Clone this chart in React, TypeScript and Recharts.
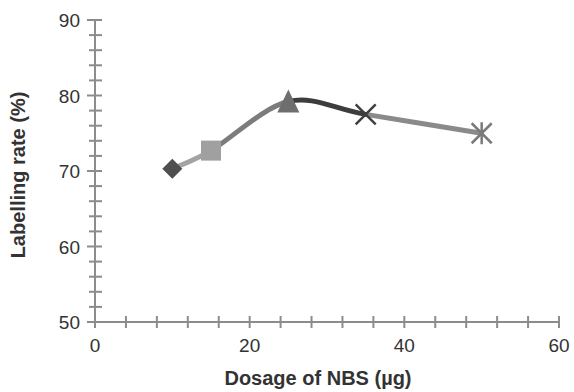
import { Line, LineChart, XAxis, YAxis } from "recharts"

const dosage = [10, 15, 25, 35, 50]
const rate = [70.3, 72.7, 79.2, 77.5, 75.0]
const markers = ["diamond", "square", "triangle", "cross", "star"]
const xTicks = [0, 4, 8, 12, 16, 20, 24, 28, 32, 36, 40, 44, 48, 52, 56, 60]
const yTicks = [50, 52, 54, 56, 58, 60, 62, 64, 66, 68, 70, 72, 74, 76, 78, 80, 82, 84, 86, 88, 90]

const data = dosage.map((d, i) => ({ dosage: d, rate: rate[i], marker: markers[i] }))

const AXIS = "#8c8c8c"
const TEXT = "#333"
const FONT = "'Liberation Sans', Arial, sans-serif"

// smooth line like excel's (catmull-rom style bezier)
const smoothCurve = (context) => {
  let pts = []
  return {
    areaStart() {},
    areaEnd() {},
    lineStart() { pts = [] },
    point(x, y) { pts.push([+x, +y]) },
    lineEnd() {
      const n = pts.length
      if (!n) return
      context.moveTo(pts[0][0], pts[0][1])
      const t = 1 / 6
      for (let i = 0; i < n - 1; i++) {
        const p0 = pts[Math.max(i - 1, 0)]
        const p1 = pts[i]
        const p2 = pts[i + 1]
        const p3 = pts[Math.min(i + 2, n - 1)]
        context.bezierCurveTo(
          p1[0] + (p2[0] - p0[0]) * t, p1[1] + (p2[1] - p0[1]) * t,
          p2[0] - (p3[0] - p1[0]) * t, p2[1] - (p3[1] - p1[1]) * t,
          p2[0], p2[1]
        )
      }
    },
  }
}

const XTick = ({ x, y, payload }) => {
  const major = payload.value % 20 === 0
  return (
    <g>
      <line x1={x} x2={x} y1={y - 6} y2={y + 6} stroke={AXIS} strokeWidth={2} />
      {major && (
        <text x={x} y={y + 30} textAnchor="middle" fill={TEXT} fontSize={19} fontFamily={FONT}>
          {payload.value}
        </text>
      )}
    </g>
  )
}

const YTick = ({ x, y, payload }) => {
  const major = payload.value % 10 === 0
  return (
    <g>
      <line x1={x - (major ? 8 : 6)} x2={x + 7} y1={y} y2={y} stroke={AXIS} strokeWidth={2} />
      {major && (
        <text x={x - 15} y={y + 7} textAnchor="end" fill={TEXT} fontSize={19} fontFamily={FONT}>
          {payload.value}
        </text>
      )}
    </g>
  )
}

const Marker = ({ cx, cy, payload }) => {
  const r = 10
  switch (payload.marker) {
    case "diamond":
      return <polygon points={`${cx},${cy - r} ${cx + r},${cy} ${cx},${cy + r} ${cx - r},${cy}`} fill="#4f4f4f" />
    case "square":
      return <rect x={cx - r} y={cy - r} width={2 * r} height={2 * r} fill="#a0a0a0" />
    case "triangle":
      return <polygon points={`${cx},${cy - 12} ${cx + 11},${cy + 11} ${cx - 11},${cy + 11}`} fill="#6e6e6e" />
    case "cross":
      return (
        <g stroke="#3f3f3f" strokeWidth={2.5}>
          <line x1={cx - r} y1={cy - r} x2={cx + r} y2={cy + r} />
          <line x1={cx - r} y1={cy + r} x2={cx + r} y2={cy - r} />
        </g>
      )
    default:
      return (
        <g stroke="#7a7a7a" strokeWidth={2.5}>
          <line x1={cx - r} y1={cy - r} x2={cx + r} y2={cy + r} />
          <line x1={cx - r} y1={cy + r} x2={cx + r} y2={cy - r} />
          <line x1={cx} y1={cy - r - 1} x2={cx} y2={cy + r + 1} />
        </g>
      )
  }
}

const App = () => {
  return (
    <div style={{ position: "absolute", left: 0, top: 0, background: "#fff" }}>
      <LineChart width={574} height={392} data={data} margin={{ top: 20, right: 15, bottom: 0, left: 0 }}>
        <defs>
          <linearGradient id="segs" x1="0" y1="0" x2="1" y2="0">
            <stop offset="0" stopColor="#a3a3a3" />
            <stop offset="0.125" stopColor="#a3a3a3" />
            <stop offset="0.125" stopColor="#7c7c7c" />
            <stop offset="0.375" stopColor="#7c7c7c" />
            <stop offset="0.375" stopColor="#3d3d3d" />
            <stop offset="0.625" stopColor="#3d3d3d" />
            <stop offset="0.625" stopColor="#8a8a8a" />
            <stop offset="1" stopColor="#8a8a8a" />
          </linearGradient>
        </defs>
        <XAxis
          dataKey="dosage"
          type="number"
          domain={[0, 60]}
          ticks={xTicks}
          interval={0}
          height={70}
          tickLine={false}
          tickSize={0}
          tickMargin={0}
          tick={<XTick />}
          axisLine={{ stroke: AXIS, strokeWidth: 2 }}
          label={{
            content: () => (
              <text x={318} y={385} textAnchor="middle" fill={TEXT} fontSize={20} fontWeight="bold" fontFamily={FONT}>
                Dosage of NBS (µg)
              </text>
            ),
          }}
        />
        <YAxis
          type="number"
          domain={[50, 90]}
          ticks={yTicks}
          interval={0}
          width={95}
          tickLine={false}
          tickSize={0}
          tickMargin={0}
          tick={<YTick />}
          axisLine={{ stroke: AXIS, strokeWidth: 2 }}
          label={{
            content: () => (
              <text
                x={0}
                y={0}
                transform="translate(25, 175) rotate(-90)"
                textAnchor="middle"
                fill={TEXT}
                fontSize={20}
                fontWeight="bold"
                fontFamily={FONT}
              >
                Labelling rate (%)
              </text>
            ),
          }}
        />
        <Line
          dataKey="rate"
          type={smoothCurve}
          stroke="url(#segs)"
          strokeWidth={5}
          dot={<Marker />}
          activeDot={false}
          isAnimationActive={false}
        />
      </LineChart>
    </div>
  )
}

export default App
